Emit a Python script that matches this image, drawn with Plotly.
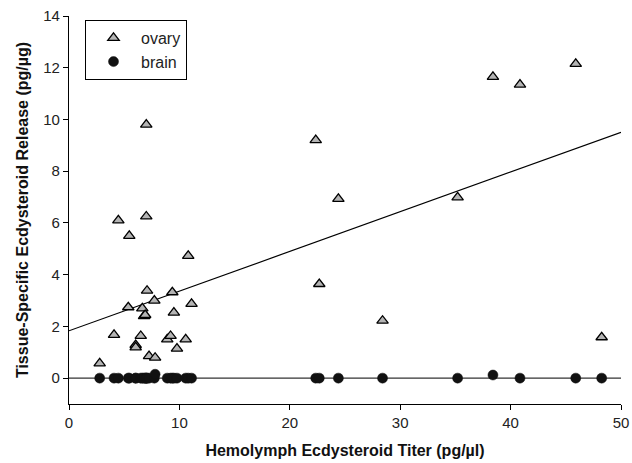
import plotly.graph_objects as go

# Hemolymph titer (x) and ovary release (y)
ovary_x = [2.78, 4.08, 4.47, 5.37, 5.46, 6.04, 6.04, 6.5, 6.64, 6.8, 6.9, 7.0, 7.0, 7.07,
           7.25, 7.73, 7.8, 8.9, 9.2, 9.36, 9.5, 9.78, 10.57, 10.8, 11.1,
           22.35, 22.67, 24.4, 28.4, 35.2, 38.4, 40.85, 45.9, 48.25]
ovary_y = [0.57, 1.67, 6.1, 2.74, 5.5, 1.28, 1.19, 1.63, 2.7, 2.40, 2.44, 9.8, 6.25, 3.38,
           0.85, 3.0, 0.79, 1.5, 1.63, 3.32, 2.53, 1.14, 1.5, 4.73, 2.87,
           9.2, 3.64, 6.93, 2.22, 6.99, 11.65, 11.35, 12.15, 1.58]
brain_x = ovary_x
brain_y = [0, 0, 0, 0, 0, 0, 0, 0, 0, 0, 0, 0, 0, 0,
           0, 0, 0.15, 0, 0, 0, 0, 0, 0, 0, 0,
           0, 0, 0, 0, 0, 0.12, 0, 0, 0]

# regression lines (intercept, slope)
ovary_fit = (1.83, 0.1535)
brain_fit = (0.0, 0.0)
fit_x = [0, 50]

x_ticks = [0, 10, 20, 30, 40, 50]
y_ticks = [0, 2, 4, 6, 8, 10, 12, 14]

FONT = "Liberation Sans, Arial, sans-serif"

fig = go.Figure()
fig.add_trace(go.Scatter(x=fit_x, y=[ovary_fit[0] + ovary_fit[1] * v for v in fit_x],
                         mode="lines", line=dict(color="black", width=1.2),
                         showlegend=False, hoverinfo="skip"))
fig.add_trace(go.Scatter(x=fit_x, y=[brain_fit[0] + brain_fit[1] * v for v in fit_x],
                         mode="lines", line=dict(color="#333333", width=1.2),
                         showlegend=False, hoverinfo="skip"))
fig.add_trace(go.Scatter(x=ovary_x, y=ovary_y, mode="markers", name="ovary",
                         marker=dict(symbol="triangle-up", size=10, color="#b4b4b4",
                                     line=dict(color="black", width=1.3))))
fig.add_trace(go.Scatter(x=brain_x, y=brain_y, mode="markers", name="brain",
                         marker=dict(symbol="circle", size=10, color="#111111",
                                     line=dict(color="#111111", width=0.5))))

fig.update_layout(
    width=632, height=463,
    margin=dict(l=69, r=11, t=16, b=59, autoexpand=False),
    paper_bgcolor="white", plot_bgcolor="white",
    font=dict(family=FONT, size=15, color="#222222"),
    legend=dict(x=0.029, y=0.99, xanchor="left", yanchor="top",
                bordercolor="black", borderwidth=1, bgcolor="white",
                font=dict(size=16, color="#222222"), tracegroupgap=0,
                itemwidth=45),
    xaxis=dict(range=[0, 50], tickvals=x_ticks, showline=True, linecolor="black",
               linewidth=1.2, ticks="outside", ticklen=5, tickwidth=1.2, tickcolor="black",
               showgrid=False, zeroline=False, tickfont=dict(size=15), automargin=False,
               title=dict(text="<b>Hemolymph Ecdysteroid Titer (pg/µl)</b>",
                          font=dict(size=16, color="#111111"), standoff=14)),
    yaxis=dict(range=[-1, 14], tickvals=y_ticks, showline=True, linecolor="black",
               linewidth=1.2, ticks="outside", ticklen=5, tickwidth=1.2, tickcolor="black",
               showgrid=False, zeroline=False, tickfont=dict(size=15), automargin=False,
               title=dict(text="<b>Tissue-Specific Ecdysteroid Release (pg/µg)</b>",
                          font=dict(size=16, color="#111111"), standoff=10)),
)

fig.write_html("out.html")
